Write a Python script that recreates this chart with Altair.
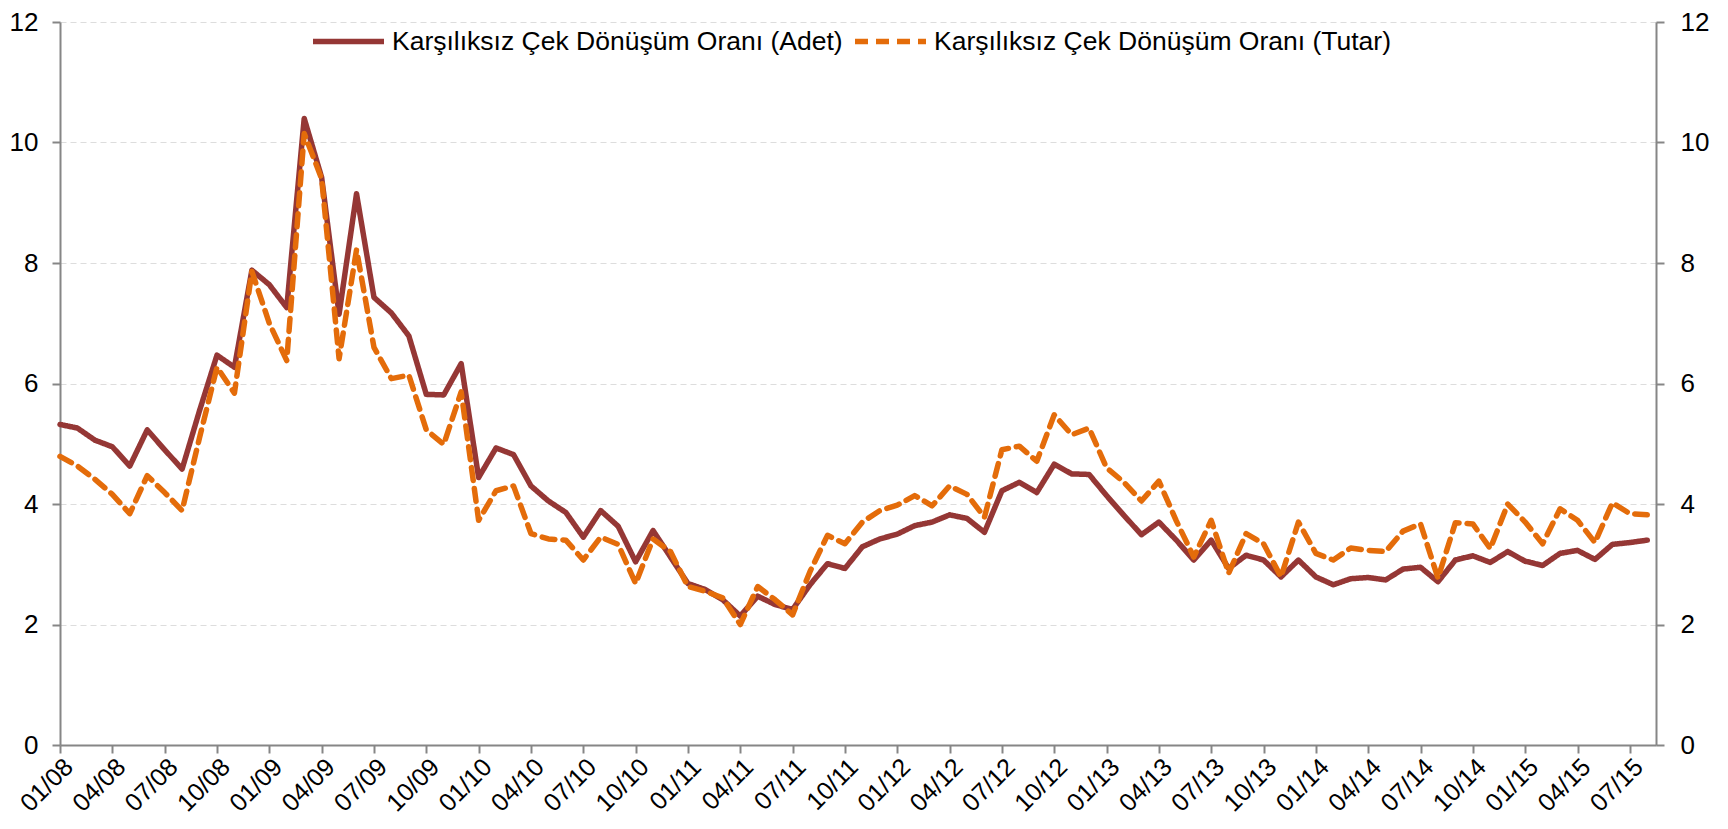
import altair as alt
import pandas as pd

# Monthly categories 01/08 ... 08/15
months = [f"{mm:02d}/{yy:02d}" for yy in range(8, 16) for mm in range(1, 13)][:92]

# Quarterly tick labels
tick_labels = ["01/08", "04/08", "07/08", "10/08", "01/09", "04/09", "07/09", "10/09",
               "01/10", "04/10", "07/10", "10/10", "01/11", "04/11", "07/11", "10/11",
               "01/12", "04/12", "07/12", "10/12", "01/13", "04/13", "07/13", "10/13",
               "01/14", "04/14", "07/14", "10/14", "01/15", "04/15", "07/15"]

series_names = ["Karşılıksız Çek Dönüşüm Oranı (Adet)", "Karşılıksız Çek Dönüşüm Oranı (Tutar)"]

adet = [5.32, 5.26, 5.06, 4.95, 4.63, 5.23, 4.90, 4.58, 5.55, 6.47, 6.27, 7.88,
        7.64, 7.26, 10.40, 9.42, 7.15, 9.15, 7.43, 7.17, 6.79, 5.82, 5.81, 6.33,
        4.44, 4.93, 4.82, 4.30, 4.05, 3.86, 3.45, 3.89, 3.63, 3.04, 3.56, 3.12,
        2.68, 2.58, 2.41, 2.14, 2.47, 2.33, 2.25, 2.66, 3.01, 2.93, 3.29, 3.42,
        3.50, 3.64, 3.70, 3.82, 3.76, 3.53, 4.22, 4.36, 4.19, 4.66, 4.50, 4.49,
        4.14, 3.81, 3.49, 3.70, 3.40, 3.07, 3.40, 2.93, 3.15, 3.07, 2.79, 3.07,
        2.79, 2.66, 2.76, 2.78, 2.74, 2.92, 2.95, 2.71, 3.07, 3.14, 3.03, 3.21,
        3.05, 2.98, 3.18, 3.23, 3.08, 3.33, 3.36, 3.40]

tutar = [4.79, 4.63, 4.41, 4.16, 3.84, 4.47, 4.19, 3.89, 5.10, 6.27, 5.84, 7.86,
         7.00, 6.38, 10.15, 9.40, 6.41, 8.22, 6.60, 6.08, 6.14, 5.23, 4.99, 5.86,
         3.73, 4.22, 4.30, 3.51, 3.42, 3.40, 3.07, 3.45, 3.33, 2.68, 3.42, 3.21,
         2.63, 2.55, 2.44, 2.00, 2.63, 2.41, 2.16, 2.88, 3.48, 3.34, 3.70, 3.89,
         3.98, 4.14, 3.97, 4.30, 4.16, 3.78, 4.90, 4.96, 4.71, 5.48, 5.15, 5.26,
         4.60, 4.36, 4.05, 4.38, 3.72, 3.12, 3.73, 2.85, 3.51, 3.34, 2.79, 3.70,
         3.18, 3.07, 3.27, 3.23, 3.21, 3.55, 3.67, 2.77, 3.69, 3.67, 3.26, 4.00,
         3.70, 3.34, 3.92, 3.73, 3.36, 4.02, 3.84, 3.82]

rows = []
for i, mo in enumerate(months):
    rows.append({"m": i, "month": mo, "series": series_names[0], "value": adet[i]})
for i, mo in enumerate(months):
    rows.append({"m": i, "month": mo, "series": series_names[1], "value": tutar[i]})
df = pd.DataFrame(rows)

FONT = "Liberation Sans"
label_expr = "[" + ",".join(f"'{t}'" for t in tick_labels) + "][round(datum.value/3)]"

x_enc = alt.X(
    "m:Q",
    scale=alt.Scale(domain=[0, 91.5], nice=False, zero=False),
    axis=alt.Axis(values=list(range(0, 91, 3)), labelExpr=label_expr, labelAngle=-45,
                  title=None, grid=False, labelFontSize=25, labelFont=FONT, labelColor="#000000",
                  domainColor="#868686", domainWidth=2, tickColor="#868686", tickWidth=2,
                  tickSize=8, labelPadding=1, labelOverlap=False, labelBound=False,
                  labelFlush=False),
)

legend_kw = dict(
    title=None, orient="none", legendX=250, legendY=-19, direction="horizontal",
    symbolType="stroke", symbolSize=5041, symbolStrokeWidth=5.5,
    labelFontSize=26.5, labelFont=FONT, labelColor="#000000", labelLimit=0,
    labelOffset=5, columnPadding=1,
)

lines = alt.Chart(df).mark_line(strokeWidth=5.5, strokeCap="round", strokeJoin="round").encode(
    x=x_enc,
    y=alt.Y("value:Q", scale=alt.Scale(domain=[0, 12], nice=False, zero=True),
            axis=alt.Axis(values=list(range(0, 13, 2)), title=None, grid=True,
                          gridColor="#DDDDDD", gridDash=[6, 4], gridWidth=1,
                          labelFontSize=26, labelFont=FONT, labelColor="#000000",
                          domainColor="#868686", domainWidth=2, tickColor="#868686",
                          tickWidth=2, tickSize=8, labelPadding=14)),
    color=alt.Color("series:N", scale=alt.Scale(domain=series_names, range=["#953735", "#E46C0A"]),
                    legend=alt.Legend(**legend_kw)),
    strokeDash=alt.StrokeDash("series:N", scale=alt.Scale(domain=series_names, range=[[1, 0], [13, 8]]),
                              legend=alt.Legend(**legend_kw)),
    order="m:Q",
)

right = alt.Chart(df).mark_line(opacity=0).encode(
    x=alt.X("m:Q"),
    y=alt.Y("value:Q", scale=alt.Scale(domain=[0, 12], nice=False, zero=True),
            axis=alt.Axis(orient="right", values=list(range(0, 13, 2)), title=None, grid=False,
                          labelFontSize=26, labelFont=FONT, labelColor="#000000",
                          domainColor="#868686", domainWidth=2, tickColor="#868686",
                          tickWidth=2, tickSize=8, labelPadding=16)),
    detail="series:N",
)

chart = alt.layer(lines, right).resolve_scale(y="independent").properties(
    width=1596, height=723, autosize="none",
    padding={"left": 52, "top": 14, "right": 60, "bottom": 76},
).configure_view(stroke=None)

chart.save("out.html", embed_options={"renderer": "svg", "actions": False})
